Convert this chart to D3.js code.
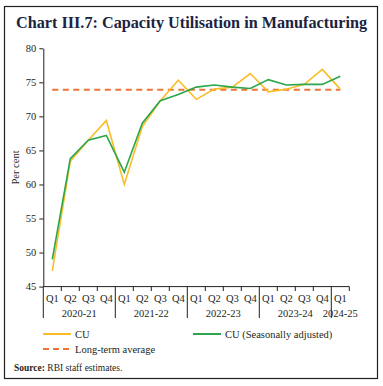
<!DOCTYPE html>
<html>
<head>
<meta charset="utf-8">
<script src="https://cdn.jsdelivr.net/npm/d3@7"></script>
<style>
  body { margin: 0; background: #fff; }
  text { font-family: "Liberation Serif", "DejaVu Serif", serif; fill: #231f20; }
</style>
</head>
<body>
<div id="chart"></div>
<script>
// quarters, 2020-21 Q1 to 2024-25 Q1
var quarters = ['Q1','Q2','Q3','Q4','Q1','Q2','Q3','Q4','Q1','Q2','Q3','Q4','Q1','Q2','Q3','Q4','Q1'];
var years = ['2020-21','2021-22','2022-23','2023-24','2024-25'];
var cu = [47.3, 63.4, 66.5, 69.4, 60.0, 68.5, 72.3, 75.3, 72.5, 74.0, 74.3, 76.3, 73.6, 74.0, 74.7, 76.9, 74.0];
var cuSa = [49.0, 63.8, 66.5, 67.2, 61.8, 69.0, 72.3, 73.2, 74.3, 74.6, 74.3, 74.1, 75.4, 74.6, 74.7, 74.7, 75.9];
var longTermAvg = 73.9;
var yTicks = [45, 50, 55, 60, 65, 70, 75, 80];

var W = 383, H = 386;
var svg = d3.select('#chart').append('svg').attr('width', W).attr('height', H);

// frame
svg.append('rect')
    .attr('x', 4.5).attr('y', 6.5)
    .attr('width', 373).attr('height', 372)
    .attr('fill', 'none').attr('stroke', '#231f20').attr('stroke-width', 1.2);

svg.append('text')
    .attr('x', 16).attr('y', 28)
    .attr('font-size', 16.5)
    .attr('font-weight', 'bold')
    .attr('textLength', 351)
    .attr('lengthAdjust', 'spacingAndGlyphs')
    .style('fill', '#1c2340')
    .text('Chart III.7: Capacity Utilisation in Manufacturing');

var mLeft = 43.3, mRight = 349.3, mTop = 48.3, mBottom = 286.6;

var idx = quarters.map((q, i) => i);
var x = d3.scaleBand().domain(idx).range([mLeft, mRight]).padding(0);
var y = d3.scaleLinear().domain([45, 80]).range([mBottom, mTop]);
var cx = (i) => x(i) + x.bandwidth() / 2;

// y axis
var yAxis = svg.append('g')
    .attr('transform', `translate(${mLeft},0)`)
    .call(d3.axisLeft(y).tickValues(yTicks).tickSize(4).tickSizeOuter(0).tickPadding(3));
yAxis.select('.domain').attr('stroke', '#231f20');
yAxis.selectAll('line').attr('stroke', '#231f20');
yAxis.selectAll('text').attr('font-size', 10.5).style('font-family', '"Liberation Serif", serif').style('fill', '#231f20');

svg.append('text')
    .attr('transform', `translate(19,${(mTop + mBottom) / 2}) rotate(-90)`)
    .attr('text-anchor', 'middle')
    .attr('font-size', 10.5)
    .text('Per cent');

// x axis
var xg = svg.append('g');
xg.append('line')
    .attr('x1', mLeft).attr('x2', mRight)
    .attr('y1', mBottom).attr('y2', mBottom)
    .attr('stroke', '#231f20');
d3.range(quarters.length + 1).forEach(function (i) {
    var xx = i < quarters.length ? x(i) : mRight;
    var isYear = i % 4 === 0;
    xg.append('line')
        .attr('x1', xx).attr('x2', xx)
        .attr('y1', mBottom).attr('y2', isYear ? 318 : 291)
        .attr('stroke', '#231f20');
});
xg.selectAll('.q').data(quarters).enter().append('text')
    .attr('x', (d, i) => cx(i))
    .attr('y', 302)
    .attr('text-anchor', 'middle')
    .attr('font-size', 10.5)
    .text((d) => d);
xg.selectAll('.yr').data(years).enter().append('text')
    .attr('x', (d, i) => {
        var a = x(i * 4), b = i * 4 + 4 <= quarters.length - 1 ? x(i * 4 + 4) : mRight;
        return (a + b) / 2;
    })
    .attr('y', 317)
    .attr('text-anchor', 'middle')
    .attr('font-size', 10.5)
    .text((d) => d);

// long-term average
svg.append('line')
    .attr('x1', cx(0)).attr('x2', cx(quarters.length - 1))
    .attr('y1', y(longTermAvg)).attr('y2', y(longTermAvg))
    .attr('stroke', '#ec7434').attr('stroke-width', 2)
    .attr('stroke-dasharray', '6,4.5');

var line = d3.line().x((d, i) => cx(i)).y((d) => y(d));

svg.append('path').datum(cu)
    .attr('d', line)
    .attr('fill', 'none').attr('stroke', '#fbbd27').attr('stroke-width', 1.6);
svg.append('path').datum(cuSa)
    .attr('d', line)
    .attr('fill', 'none').attr('stroke', '#2ca64a').attr('stroke-width', 1.6);

// legend
var legend = [
    { label: 'CU', color: '#fbbd27', dash: null, x: 43, y: 334 },
    { label: 'CU (Seasonally adjusted)', color: '#2ca64a', dash: null, x: 193, y: 334 },
    { label: 'Long-term average', color: '#ec7434', dash: '6,4', x: 43, y: 349 }
];
legend.forEach(function (l) {
    svg.append('line')
        .attr('x1', l.x).attr('x2', l.x + 28)
        .attr('y1', l.y).attr('y2', l.y)
        .attr('stroke', l.color).attr('stroke-width', 2)
        .attr('stroke-dasharray', l.dash);
    svg.append('text')
        .attr('x', l.x + 32).attr('y', l.y + 3.5)
        .attr('font-size', 10.5)
        .text(l.label);
});

var src = svg.append('text').attr('x', 14).attr('y', 371).attr('font-size', 9.5);
src.append('tspan').attr('font-weight', 'bold').text('Source:');
src.append('tspan').text(' RBI staff estimates.');
</script>
</body>
</html>
